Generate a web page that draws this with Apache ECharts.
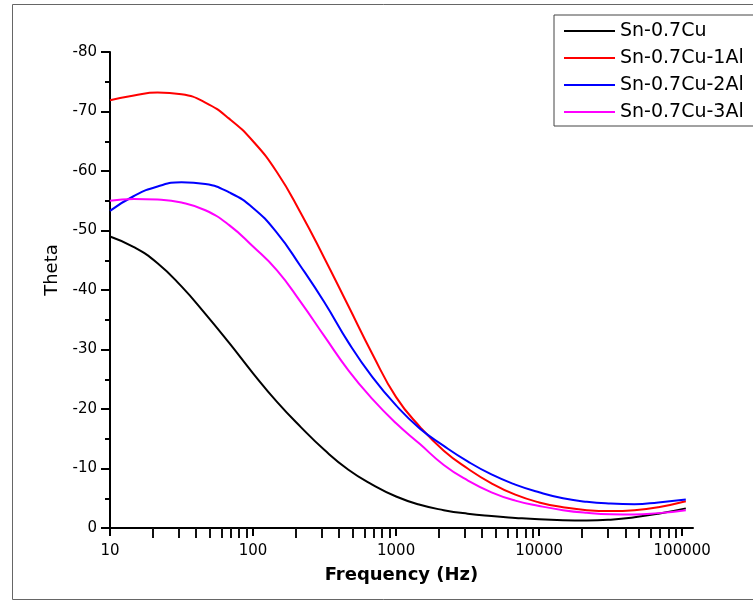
<!DOCTYPE html>
<html>
<head>
<meta charset="utf-8">
<script src="https://cdn.jsdelivr.net/npm/echarts@6/dist/echarts.min.js"></script>
<style>html,body{margin:0;padding:0;background:#fff;}#c{width:753px;height:601px;}</style>
</head>
<body>
<div id="c"></div>
<script>
const seriesNames = ['Sn-0.7Cu', 'Sn-0.7Cu-1Al', 'Sn-0.7Cu-2Al', 'Sn-0.7Cu-3Al'];
const seriesColors = ['#000000', '#ff0000', '#0000ff', '#ff00ff'];

const frequency = [10, 14.7, 21.5, 31.6, 46.4, 68.1, 100, 147, 215, 316, 464, 681, 1000, 1468, 2154, 3162, 4642, 6813, 10000, 14678, 21544, 31623, 46416, 68129, 106000];
const thetaBlack   = [-49.0, -47.2, -44.5, -40.6, -36.0, -31.1, -26.0, -21.2, -17.0, -13.1, -9.8, -7.3, -5.3, -3.9, -3.0, -2.4, -2.0, -1.7, -1.45, -1.3, -1.25, -1.4, -1.8, -2.4, -3.3];
const thetaRed     = [-71.9, -72.7, -73.2, -72.9, -71.5, -68.8, -65.0, -59.8, -53.0, -45.3, -37.3, -29.3, -22.0, -17.0, -13.0, -10.0, -7.5, -5.6, -4.3, -3.5, -3.0, -2.85, -3.0, -3.5, -4.5];
const thetaBlue    = [-53.3, -55.8, -57.4, -58.1, -57.8, -56.4, -53.8, -49.6, -44.0, -37.9, -31.2, -25.4, -20.6, -16.7, -13.8, -11.2, -9.0, -7.3, -6.0, -5.0, -4.4, -4.1, -4.0, -4.3, -4.8];
const thetaMagenta = [-55.0, -55.3, -55.2, -54.7, -53.4, -50.9, -47.3, -43.3, -38.0, -32.2, -26.5, -21.7, -17.6, -14.1, -10.6, -8.0, -6.0, -4.6, -3.7, -3.0, -2.55, -2.3, -2.25, -2.5, -3.0];

const xMajorTicks = [10, 100, 1000, 10000, 100000];
const xMinorTicks = [20, 30, 40, 50, 60, 70, 80, 90, 200, 300, 400, 500, 600, 700, 800, 900,
  2000, 3000, 4000, 5000, 6000, 7000, 8000, 9000, 20000, 30000, 40000, 50000, 60000, 70000, 80000, 90000];

const thetas = [thetaBlack, thetaRed, thetaBlue, thetaMagenta];

const FONT = 'DejaVu Sans';
const chart = echarts.init(document.getElementById('c'), null, {renderer: 'canvas'});

const series = seriesNames.map((name, i) => ({
  name: name,
  type: 'line',
  xAxisIndex: 0,
  symbol: 'none',
  smooth: true,
  lineStyle: {color: seriesColors[i], width: 2},
  itemStyle: {color: seriesColors[i]},
  data: frequency.map((f, k) => [f, thetas[i][k]])
}));
// invisible copy bound to the minor-tick axis (same scale) so that axis gets rendered
series.push({
  name: 'minorTickAxisCarrier',
  type: 'line',
  xAxisIndex: 1,
  symbol: 'none',
  silent: true,
  lineStyle: {opacity: 0},
  data: frequency.map((f, k) => [f, thetaBlack[k]])
});

chart.setOption({
  backgroundColor: '#ffffff',
  animation: false,
  graphic: [{
    type: 'rect',
    shape: {x: 12.5, y: 4.5, width: 800, height: 595},
    style: {fill: 'none', stroke: '#666666', lineWidth: 1},
    silent: true
  }],
  legend: {
    orient: 'vertical',
    left: 554,
    top: 15,
    padding: [6, 40, 4, 10],
    itemGap: 7,
    itemWidth: 51,
    itemHeight: 2,
    icon: 'rect',
    borderColor: '#444444',
    borderWidth: 1,
    backgroundColor: '#ffffff',
    textStyle: {fontFamily: FONT, fontSize: 19, color: '#000', lineHeight: 20},
    data: seriesNames
  },
  grid: {left: 110, right: 60, top: 52, bottom: 73},
  xAxis: [{
    type: 'log',
    logBase: 10,
    min: 10,
    max: 119000,
    position: 'bottom',
    name: 'Frequency (Hz)',
    nameLocation: 'middle',
    nameGap: 38,
    nameTextStyle: {fontFamily: FONT, fontSize: 18, fontWeight: 'bold', color: '#000'},
    axisLine: {show: true, onZero: false, lineStyle: {color: '#000', width: 2}},
    axisTick: {show: true, inside: false, length: 8, lineStyle: {color: '#000', width: 2}, customValues: xMajorTicks},
    minorTick: {show: false},
    axisLabel: {show: true, margin: 16, fontFamily: FONT, fontSize: 15, color: '#000', customValues: xMajorTicks,
      formatter: function (v) { return String(Math.round(v)); }},
    splitLine: {show: false}
  }, {
    type: 'log',
    logBase: 10,
    min: 10,
    max: 119000,
    position: 'bottom',
    offset: 0,
    axisLine: {show: true, onZero: false, lineStyle: {color: 'rgba(0,0,0,0)', width: 1}},
    axisTick: {show: true, inside: false, length: 10, lineStyle: {color: '#111111', width: 2}, customValues: xMinorTicks},
    axisLabel: {show: true, customValues: xMinorTicks, formatter: function () { return ''; }},
    splitLine: {show: false}
  }],
  yAxis: {
    type: 'value',
    min: -80,
    max: 0,
    interval: 10,
    inverse: true,
    name: 'Theta',
    nameLocation: 'middle',
    nameGap: 48,
    nameRotate: 90,
    nameTextStyle: {fontFamily: FONT, fontSize: 18, color: '#000', padding: [0, 0, 0, 40]},
    axisLine: {show: true, onZero: false, lineStyle: {color: '#000', width: 2}},
    axisTick: {show: true, inside: false, length: 9, lineStyle: {color: '#000', width: 2}},
    minorTick: {show: true, splitNumber: 2, length: 5, lineStyle: {color: '#000', width: 2}},
    axisLabel: {margin: 13, fontFamily: FONT, fontSize: 15, color: '#000'},
    splitLine: {show: false}
  },
  series: series
});
</script>
</body>
</html>
